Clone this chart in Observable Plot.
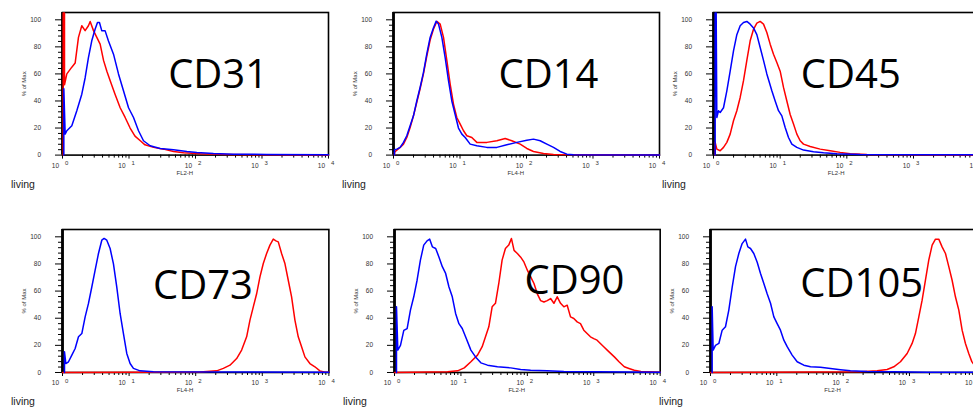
<!DOCTYPE html>
<html><head><meta charset="utf-8">
<script src="https://cdn.jsdelivr.net/npm/d3@7"></script>
<script src="https://cdn.jsdelivr.net/npm/@observablehq/plot@0.6"></script>
<style>
html,body{margin:0;padding:0;background:#fff;overflow:hidden;width:973px;height:408px;}
#chart{position:relative;width:973px;height:408px;overflow:hidden;background:#fff;}
#chart svg{position:absolute;}
</style></head><body><div id="chart"></div>
<script>
// ---- data (x in decades of fluorescence, y in % of max) ----
const markers = ["CD31", "CD14", "CD45", "CD73", "CD90", "CD105"];
const channels = ["FL2-H", "FL4-H", "FL2-H", "FL4-H", "FL2-H", "FL2-H"];
const yTicks = [0, 20, 40, 60, 80, 100];
const decades = [0, 1, 2, 3, 4];
const yLabel = "% of Max";
const gateLabel = "living";

const cd31Red = [[0.01,0],[0.01,105],[0.03,105],[0.03,52],[0.065,60],[0.14,65],[0.19,68],[0.24,87],[0.29,95.6],[0.34,92],[0.39,95.6],[0.416,98.8],[0.466,92],[0.516,87],[0.566,82],[0.617,70],[0.667,62],[0.717,55],[0.79,45],[0.867,35],[0.94,28],[1.017,20],[1.09,14],[1.17,10.6],[1.24,7.6],[1.37,5.7],[1.52,4.4],[1.67,2.7],[1.82,1.7],[2.07,1],[2.47,0.5],[3.07,0.2],[4,0]];
const cd31Blue = [[0.02,0],[0.02,49],[0.04,15.5],[0.065,18],[0.14,21.7],[0.215,32.8],[0.29,45],[0.34,57],[0.39,72],[0.44,84.5],[0.49,93],[0.526,98],[0.556,98],[0.59,92],[0.64,92],[0.69,84.5],[0.767,74.6],[0.842,60],[0.917,47.5],[0.993,35],[1.068,27.8],[1.143,18],[1.218,10.6],[1.318,6.9],[1.469,4.9],[1.669,3.9],[1.87,2.7],[2.02,2],[2.27,1.2],[2.57,0.7],[3.07,0.5],[4,0.2]];

const cd14Red = [[0.015,0],[0.015,2],[0.05,3.7],[0.1,5.7],[0.15,8.1],[0.2,13],[0.25,20.4],[0.3,29],[0.35,39],[0.4,49],[0.45,60],[0.5,73],[0.551,85],[0.6,93],[0.652,98.8],[0.702,96.8],[0.752,87],[0.802,70],[0.852,52.5],[0.902,37.7],[0.952,27.8],[1.003,22.9],[1.053,18],[1.103,14.3],[1.178,13],[1.253,9.4],[1.404,9.4],[1.554,10.6],[1.679,12.3],[1.779,10.6],[1.905,8.1],[2.005,4.9],[2.105,2.7],[2.256,1.2],[2.406,0.5],[4,0]];
const cd14Blue = [[0.015,0],[0.015,4],[0.05,4.4],[0.1,5.7],[0.15,9.4],[0.2,14.3],[0.25,21.7],[0.3,29],[0.35,40],[0.4,50],[0.45,61],[0.5,74.6],[0.551,87],[0.6,94],[0.642,99],[0.677,96.8],[0.727,87],[0.777,72],[0.827,55],[0.877,40],[0.927,30],[0.977,20],[1.028,15.5],[1.078,13],[1.153,8.1],[1.253,6.9],[1.404,5.7],[1.554,5.7],[1.704,7.6],[1.855,9.4],[2.005,11],[2.105,11.8],[2.206,10.6],[2.306,8.1],[2.406,5.7],[2.506,2.7],[2.607,0.7],[2.707,0.2],[4,0]];

const cd45Red = [[0.025,0],[0.025,9.4],[0.05,4.4],[0.1,3.2],[0.15,5.7],[0.2,9.4],[0.25,15.5],[0.3,25.4],[0.35,32.8],[0.4,42.6],[0.45,55],[0.5,70],[0.55,84.5],[0.6,93],[0.65,97.5],[0.7,98.8],[0.75,96.8],[0.8,90.6],[0.85,82],[0.9,74.6],[0.95,68.5],[1.0,62],[1.05,50],[1.1,40],[1.15,30],[1.2,23],[1.25,15.5],[1.3,10.6],[1.35,8.1],[1.45,6.4],[1.6,4.4],[1.75,3.2],[1.9,2],[2.05,1],[2.3,0.5],[4,0]];
const cd45Blue = [[0.025,0],[0.025,105],[0.04,105],[0.05,27.8],[0.075,32.8],[0.1,31.5],[0.15,35],[0.2,47.5],[0.25,62],[0.3,77],[0.35,89],[0.4,95.6],[0.45,98],[0.5,98.8],[0.55,96.8],[0.6,94],[0.65,89],[0.7,79.5],[0.75,70],[0.8,60],[0.875,47.5],[0.925,40],[0.975,32.8],[1.025,29],[1.075,20.4],[1.125,13],[1.175,8.1],[1.25,5.7],[1.35,3.7],[1.5,2.5],[1.65,1.7],[1.85,1],[2.2,0.5],[4,0.2]];

const cd73Red = [[0,0],[2.065,0.3],[2.315,1.2],[2.415,3],[2.515,5.4],[2.615,10.3],[2.69,16.5],[2.765,26.3],[2.815,38.6],[2.865,48.4],[2.915,58],[2.965,70.5],[3.015,80.3],[3.065,87.7],[3.115,93.9],[3.165,98.3],[3.205,97],[3.24,96.3],[3.29,87.7],[3.34,80.3],[3.39,68],[3.44,55.8],[3.49,38.6],[3.54,26.3],[3.59,18.9],[3.64,11.5],[3.715,6.6],[3.79,4.2],[3.865,1.2],[3.94,0.2],[4,0.2]];
const cd73Blue = [[0.03,0],[0.03,15.2],[0.05,6.6],[0.09,7.9],[0.14,12.8],[0.19,17.7],[0.24,26.3],[0.29,28.7],[0.34,41],[0.39,50.9],[0.44,63],[0.49,75.4],[0.54,87.7],[0.59,97.5],[0.625,98.8],[0.665,97.5],[0.715,91.4],[0.765,80],[0.815,63],[0.865,43.5],[0.915,28.7],[0.965,14],[1.015,6.6],[1.065,3],[1.165,1.2],[1.365,0.5],[4,0.2]];

const cd90Red = [[0,0],[0.8,0.5],[0.95,1.2],[1.05,3.4],[1.15,7.9],[1.25,12.8],[1.32,19],[1.37,26.3],[1.42,33.7],[1.47,48.4],[1.52,51],[1.57,65.6],[1.62,82.8],[1.67,91.4],[1.72,93.9],[1.76,98.8],[1.8,90],[1.85,87.7],[1.9,85],[1.95,81.3],[2.0,75.4],[2.05,70.5],[2.1,65.6],[2.15,58],[2.2,53],[2.25,52],[2.3,53],[2.35,54.5],[2.4,51],[2.45,55.8],[2.5,51],[2.55,48.4],[2.6,49.6],[2.65,41],[2.7,39.8],[2.75,37.3],[2.8,36],[2.85,31.2],[2.9,28.7],[2.95,26.3],[3.0,25],[3.05,23.8],[3.1,21.4],[3.15,19],[3.23,15.2],[3.31,11.5],[3.38,7.9],[3.46,4.2],[3.53,3],[3.61,1.7],[3.71,0.7],[3.81,0.5],[4,0.2]];
const cd90Blue = [[0.03,0],[0.03,48.4],[0.05,16.5],[0.09,20],[0.14,31],[0.19,32.4],[0.24,46],[0.29,55.8],[0.34,68],[0.39,82.8],[0.44,93.9],[0.49,97],[0.53,98.3],[0.57,92.6],[0.62,91.4],[0.67,85],[0.72,78],[0.77,73],[0.82,63],[0.87,55.8],[0.92,43.5],[0.97,36],[1.02,32.4],[1.07,26.3],[1.15,16.5],[1.22,11.5],[1.3,7.1],[1.4,5.4],[1.55,4.2],[1.75,3.4],[1.9,2.2],[2.05,1.7],[2.3,1.2],[2.55,0.7],[3.06,0.5],[4,0.2]];

const cd105Red = [[0,0],[2.261,0.5],[2.513,1.2],[2.663,2.2],[2.764,4.2],[2.864,7.9],[2.965,14],[3.04,21.4],[3.09,28.7],[3.141,41],[3.191,53.3],[3.241,68],[3.291,82.8],[3.342,93.9],[3.392,98.3],[3.442,98.3],[3.492,92.6],[3.543,87.7],[3.593,78],[3.643,68],[3.693,55.8],[3.744,46],[3.794,31.2],[3.844,21.4],[3.894,14],[3.94,8],[3.97,6],[4,4]];
const cd105Blue = [[0.025,0],[0.025,48.4],[0.04,16.5],[0.075,20],[0.126,21.4],[0.176,31.2],[0.226,33.7],[0.276,46],[0.327,63],[0.377,78],[0.427,87.7],[0.477,95],[0.528,98.3],[0.563,92.6],[0.603,91.4],[0.653,87.7],[0.704,81.3],[0.754,73],[0.804,65.6],[0.854,58],[0.905,51],[0.955,41],[1.005,36],[1.055,31.2],[1.106,23.8],[1.156,19],[1.231,12.8],[1.307,7.9],[1.407,5.4],[1.508,4.2],[1.658,3.9],[1.809,2.9],[1.96,2],[2.11,1.2],[2.362,0.7],[2.764,0.5],[3.266,0.2],[4,0.2]];

const redSeries = [cd31Red, cd14Red, cd45Red, cd73Red, cd90Red, cd105Red];
const blueSeries = [cd31Blue, cd14Blue, cd45Blue, cd73Blue, cd90Blue, cd105Blue];

// ---- layout (page pixels of each panel's frame; label anchor in data units) ----
const layout = [
  {x0: 62.3, x1: 328.3, y0: 11.7, y1: 154.3, lx: 2.34, ly: 49.7},
  {x0: 393.3, x1: 659.3, y0: 11.7, y1: 154.3, lx: 2.33, ly: 49.7},
  {x0: 713.3, x1: 980.0, y0: 11.7, y1: 154.3, lx: 2.06, ly: 49.7},
  {x0: 62.3, x1: 328.7, y0: 229.3, y1: 372.3, lx: 2.11, ly: 54},
  {x0: 393.6, x1: 659.3, y0: 229.3, y1: 372.3, lx: 2.71, ly: 57.7},
  {x0: 710.0, x1: 975.3, y0: 229.3, y1: 372.3, lx: 2.28, ly: 55.5}
];
const ML = 62, MR = 14, MT = 4, MB = 36;

const xMinor = [];
for (let e = 0; e < 4; e++) for (let k = 2; k <= 9; k++) xMinor.push(k * 10 ** e);
const yMinor = d3.range(0, 101, 4).filter(v => v % 20 !== 0);

const chart = document.getElementById("chart");
markers.forEach((name, i) => {
  const g = layout[i];
  const fx = d => 10 ** d[0];
  const fy = d => d[1];
  const svg = Plot.plot({
    width: ML + (g.x1 - g.x0) + MR,
    height: MT + (g.y1 - g.y0) + MB,
    marginLeft: ML, marginRight: MR, marginTop: MT, marginBottom: MB,
    style: {background: "transparent", overflow: "visible", fontFamily: "'Liberation Sans', Arial, sans-serif"},
    x: {type: "log", domain: [1, 1e4]},
    y: {domain: [0, 105.4]},
    marks: [
      Plot.frame({stroke: "black", strokeWidth: 1.6}),
      Plot.axisX(xMinor, {tickSize: 3, fill: "none", label: null, stroke: "black"}),
      Plot.axisX(decades.map(d => 10 ** d), {tickSize: 4, fill: "none", label: null, stroke: "black"}),
      Plot.axisY(yMinor, {tickSize: 4, fill: "none", label: null, stroke: "black"}),
      Plot.axisY(yTicks, {tickSize: 7, tickPadding: 14.5, fontSize: 6.5, fill: "#333", stroke: "black", label: null}),
      Plot.text(decades, {x: d => 10 ** d, text: () => "10", frameAnchor: "bottom", lineAnchor: "middle", dy: 10.7, dx: -3.5, textAnchor: "end", fontSize: 6.5, fill: "#333"}),
      Plot.text(decades, {x: d => 10 ** d, text: d => String(d), frameAnchor: "bottom", lineAnchor: "middle", dy: 8.4, dx: 2.5, textAnchor: "start", fontSize: 6, fill: "#333"}),
      Plot.text([channels[i]], {x: () => 10 ** 1.84, text: d => d, frameAnchor: "bottom", lineAnchor: "middle", dy: 18, fontSize: 6, fill: "#333"}),
      Plot.text([yLabel], {text: d => d, frameAnchor: "left", textAnchor: "middle", lineAnchor: "middle", rotate: -90, dx: -38.3, fontSize: 6, fill: "#333"}),
      Plot.text([gateLabel], {text: d => d, frameAnchor: "bottom-left", textAnchor: "start", lineAnchor: "bottom", dx: -51.5, dy: 32.5, fontSize: 10.5, fill: "#222"}),
      Plot.ruleX([1], {stroke: "black", strokeWidth: 2.8}),
      Plot.line(redSeries[i], {x: fx, y: fy, stroke: "#ff0000", strokeWidth: 1.5}),
      Plot.line(blueSeries[i], {x: fx, y: fy, stroke: "#0000ff", strokeWidth: 1.5}),
      Plot.text([name], {x: () => 10 ** g.lx, y: () => g.ly, text: d => d, fontSize: 40, fontFamily: "'Open Sans', sans-serif", textAnchor: "middle", lineAnchor: "bottom", fill: "black"})
    ]
  });
  svg.style.left = (g.x0 - ML) + "px";
  svg.style.top = (g.y0 - MT) + "px";
  chart.appendChild(svg);
});
</script></body></html>
